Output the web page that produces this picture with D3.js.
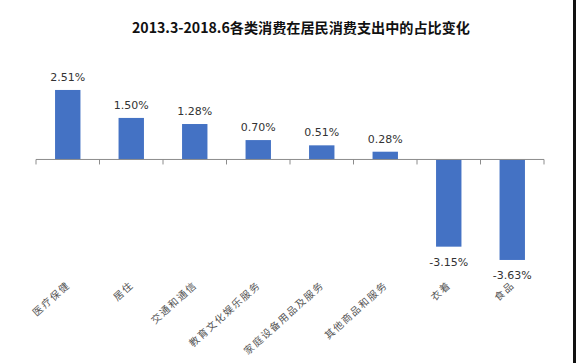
<!DOCTYPE html>
<html>
<head>
<meta charset="utf-8">
<script src="https://cdn.jsdelivr.net/npm/d3@7"></script>
<style>
  body { margin: 0; background: #fff; }
  svg { display: block; }
</style>
</head>
<body>
<div id="chart"></div>
<script>
// Data
const categories = ["医疗保健", "居住", "交通和通信", "教育文化娱乐服务", "家庭设备用品及服务", "其他商品和服务", "衣着", "食品"];
const values = [2.51, 1.50, 1.28, 0.70, 0.51, 0.28, -3.15, -3.63];
const valueLabels = ["2.51%", "1.50%", "1.28%", "0.70%", "0.51%", "0.28%", "-3.15%", "-3.63%"];
const title = "2013.3-2018.6各类消费在居民消费支出中的占比变化";

const width = 576, height = 363;

const svg = d3.select("#chart")
    .append("svg")
    .attr("width", width)
    .attr("height", height);

svg.append("rect").attr("width", width).attr("height", height).attr("fill", "#fff");
// dark strip at the right edge
svg.append("rect").attr("x", 573).attr("y", 0).attr("width", 3).attr("height", height).attr("fill", "#111");

// Title
svg.append("text")
    .attr("x", 301)
    .attr("y", 33)
    .attr("text-anchor", "middle")
    .attr("textLength", 338)
    .attr("lengthAdjust", "spacingAndGlyphs")
    .style("font-family", "'Noto Sans CJK SC', 'DejaVu Serif', serif")
    .style("font-weight", "bold")
    .style("font-size", "14px")
    .attr("fill", "#111")
    .text(title);

// Scales
const x = d3.scaleBand().domain(categories).range([36, 544]).paddingInner(0.6).paddingOuter(0.3);
const y = d3.scaleLinear().domain([-4, 3]).range([270.2, 76.4]);

// Bars
svg.selectAll("rect.bar")
    .data(values)
    .join("rect")
    .attr("class", "bar")
    .attr("x", (d, i) => x(categories[i]))
    .attr("width", x.bandwidth())
    .attr("y", d => Math.min(y(d), y(0)))
    .attr("height", d => Math.abs(y(d) - y(0)))
    .attr("fill", "#4472c4");

// Axis
const axis = svg.append("g")
    .attr("transform", `translate(0,${y(0)})`)
    .call(d3.axisBottom(x).tickSize(5).tickFormat(""));
axis.select(".domain").attr("stroke", "#8c8c8c").attr("d", "M36,0H544");
// ticks at band edges, not centres
axis.selectAll(".tick").remove();
const edges = d3.range(categories.length + 1).map(i => 36 + i * x.step());
axis.selectAll("line.edge")
    .data(edges)
    .join("line")
    .attr("class", "edge")
    .attr("x1", d => d).attr("x2", d => d)
    .attr("y1", 0).attr("y2", 5)
    .attr("stroke", "#8c8c8c");

// Value labels
svg.selectAll("text.val")
    .data(values)
    .join("text")
    .attr("class", "val")
    .attr("x", (d, i) => x(categories[i]) + x.bandwidth() / 2)
    .attr("y", d => d >= 0 ? y(d) - 9 : y(d) + 19)
    .attr("text-anchor", "middle")
    .style("font-family", "'DejaVu Sans', sans-serif")
    .style("font-size", "11px")
    .attr("fill", "#333")
    .text((d, i) => valueLabels[i]);

// Category labels, rotated
svg.selectAll("text.cat")
    .data(categories)
    .join("text")
    .attr("class", "cat")
    .attr("transform", d => `translate(${x(d) + x.bandwidth() / 2 + 3},${286}) rotate(-42)`)
    .attr("text-anchor", "end")
    .style("font-family", "'Noto Sans CJK SC', sans-serif")
    .style("font-size", "10px")
    .style("letter-spacing", "1.5px")
    .attr("fill", "#555")
    .text(d => d);
</script>
</body>
</html>
